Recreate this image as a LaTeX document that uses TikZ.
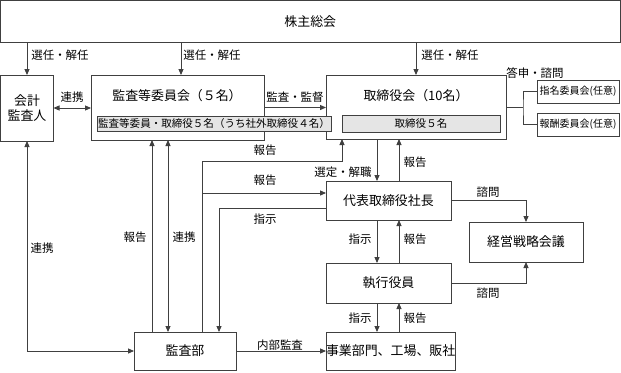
\documentclass[tikz,border=0pt]{standalone}
\usepackage{fontspec}
\setmainfont{Noto Sans CJK JP}
\usetikzlibrary{arrows.meta,calc}
\begin{document}
\begin{tikzpicture}[x=0.75pt,y=-0.75pt,
  ln/.style={draw=black!75,line width=0.7pt},
  arr/.style={ln,-{Triangle[length=4.5pt,width=3.8pt]}},
  arrb/.style={ln,{Triangle[length=4.5pt,width=3.8pt]}-{Triangle[length=4.5pt,width=3.8pt]}},
  sz/.style 2 args={minimum width=#1*0.75pt,minimum height=#2*0.75pt},
  box/.style={ln,fill=white,inner sep=0pt,outer sep=0pt,anchor=north west,font=\fontsize{9.7}{11.5}\selectfont,align=center},
  inbox/.style={box,fill=black!10,font=\fontsize{7.9}{10}\selectfont},
  cbox/.style={box,font=\fontsize{7.5}{9}\selectfont},
  lbl/.style={inner sep=0pt,font=\fontsize{8.6}{10}\selectfont}]
\useasboundingbox (0,0) rectangle (621,372);

% boxes
\node[box,sz={619.5}{42}] (top) at (0.5,0.5) {株主総会};
\node[box,sz={53}{66}] (kaikei) at (0.5,75) {会計\\監査人};
\node[box,sz={173}{65}] (kiin) at (91,75) {};
\node[box,draw=none,fill=none,anchor=center] (kiint) at (177,96) {監査等委員会（５名）};
\node[box,sz={180}{64}] (tori) at (326,75) {};
\node[box,draw=none,fill=none,anchor=center] (torit) at (416,96) {取締役会（10名）};
\node[inbox,sz={234}{15}] (kiinin) at (97,116) {監査等委員・取締役５名（うち社外取締役４名）};
\node[inbox,sz={158}{17}] (toriin) at (342,115) {取締役５名};
\node[cbox,sz={82}{23}] (shimei) at (537,80) {指名委員会(任意)};
\node[cbox,sz={82}{23}] (hoshu) at (537,113) {報酬委員会(任意)};
\node[box,sz={125}{39}] (daihyo) at (326,181) {代表取締役社長};
\node[box,sz={114}{40}] (keiei) at (469,222) {経営戦略会議};
\node[box,sz={125}{40}] (shikko) at (326,263) {執行役員};
\node[box,sz={124}{38}] (jigyo) at (326,332) {事業部門、工場、販社};
\node[box,sz={102}{38}] (kansabu) at (134,332) {監査部};

% helper coordinates
\coordinate (k1) at ($(kiin.north)+(3.5,0)$);
\coordinate (br) at ($(tori.east)+(17,0)$);
\coordinate (d1) at ($(daihyo.north)+(-11.5,0)$);
\coordinate (d2) at ($(daihyo.north)+(10.5,0)$);
\coordinate (t3) at ($(tori.south)+(-74,0)$);
\coordinate (hk) at ($(t3)+(0,22)$);
\coordinate (b1) at ($(kansabu.north)+(-33,0)$);
\coordinate (b2) at ($(kansabu.north)+(-17,0)$);
\coordinate (b3) at ($(kansabu.north)+(17,0)$);
\coordinate (b4) at ($(kansabu.north)+(34,0)$);
\coordinate (dw1) at ($(daihyo.west)+(0,-7.5)$);
\coordinate (dw2) at ($(daihyo.west)+(0,7.5)$);

% connectors
\draw[arr] (top.south -| kaikei.north) -- (kaikei.north);
\draw[arr] (top.south -| k1) -- (k1);
\draw[arr] (top.south -| tori.north) -- (tori.north);
\draw[arrb] (kaikei.east) -- (kaikei.east -| kiin.west);
\draw[arr] (kiin.east) -- (kiin.east -| tori.west);
\draw[ln] (tori.east) -- (br);
\draw[ln] (shimei.west) -| (br) |- (hoshu.west);
\draw[arr] (tori.south -| d1) -- (d1);
\draw[arr] (d2) -- (tori.south -| d2);
\draw[arr] (daihyo.south -| d1) -- (shikko.north -| d1);
\draw[arr] (shikko.north -| d2) -- (daihyo.south -| d2);
\draw[arr] (shikko.south -| d1) -- (jigyo.north -| d1);
\draw[arr] (jigyo.north -| d2) -- (shikko.south -| d2);
\draw[arr] (b3) |- (hk) -- (t3);
\draw[arr] (b3 |- dw1) -- (dw1);
\draw[arr] (dw2) -| (b4);
\draw[arr] (b1) -- (kiin.south -| b1);
\draw[arrb] (b2) -- (kiin.south -| b2);
\draw[arrb] (kaikei.south) |- (kansabu.west);
\draw[arr] (kansabu.east) -- (jigyo.west);
\draw[arr] (daihyo.east) -| (keiei.north);
\draw[arr] (shikko.east) -| (keiei.south);

% labels
\node[lbl] (l1) at (60,55) {選任・解任};
\node[lbl] (l2) at (212,55) {選任・解任};
\node[lbl] (l3) at (450,55) {選任・解任};
\node[lbl] (l4) at (535,73) {答申・諮問};
\node[lbl] (l5) at (72,97) {連携};
\node[lbl] (l6) at (295,97) {監査・監督};
\node[lbl] (l7) at (343,172) {選定・解職};
\node[lbl] (l8) at (415,162) {報告};
\node[lbl] (l9) at (265,150) {報告};
\node[lbl] (l10) at (265,180) {報告};
\node[lbl] (l11) at (265,219) {指示};
\node[lbl] (l12) at (135,237) {報告};
\node[lbl] (l13) at (184,237) {連携};
\node[lbl] (l14) at (42,248) {連携};
\node[lbl] (l15) at (360,239) {指示};
\node[lbl] (l16) at (415,239) {報告};
\node[lbl] (l17) at (360,318) {指示};
\node[lbl] (l18) at (415,318) {報告};
\node[lbl] (l19) at (488,192) {諮問};
\node[lbl] (l20) at (488,293) {諮問};
\node[lbl] (l21) at (280,345) {内部監査};
\end{tikzpicture}
\end{document}
